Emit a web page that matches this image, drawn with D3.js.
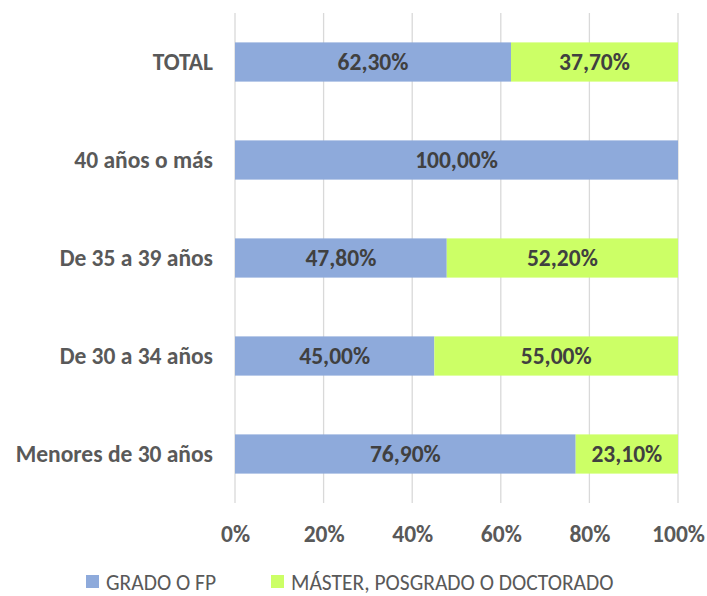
<!DOCTYPE html>
<html>
<head>
<meta charset="utf-8">
<script src="https://cdn.jsdelivr.net/npm/d3@7"></script>
<style>
  body { margin: 0; background: #fff; }
  svg { font-family: Carlito, Calibri, Lato, sans-serif; }
</style>
</head>
<body>
<div class="chart"></div>
<script>
const categories = ['TOTAL', '40 años o más', 'De 35 a 39 años', 'De 30 a 34 años', 'Menores de 30 años'];
const seriesNames = ['GRADO O FP', 'MÁSTER, POSGRADO O DOCTORADO'];
const grado = [62.3, 100, 47.8, 45.0, 76.9];
const master = [37.7, 0, 52.2, 55.0, 23.1];
const xTicks = [0, 20, 40, 60, 80, 100];
const colors = ['#8eaadb', '#ccff66'];

const fontSize = '23.5px';

const dimensions = {
  width: 707,
  height: 596,
  margin: { top: 13, right: 29, bottom: 93, left: 235 },
};
dimensions.boundedWidth = dimensions.width - dimensions.margin.left - dimensions.margin.right;
dimensions.boundedHeight = dimensions.height - dimensions.margin.top - dimensions.margin.bottom;

const svg = d3.select('.chart')
  .append('svg')
  .attr('width', dimensions.width)
  .attr('height', dimensions.height);

const bounds = svg.append('g')
  .attr('transform', `translate(${dimensions.margin.left},${dimensions.margin.top})`);

const xScale = d3.scaleLinear()
  .domain([0, 100])
  .range([0, dimensions.boundedWidth]);

const yScale = d3.scaleBand()
  .domain(categories)
  .range([0, dimensions.boundedHeight])
  .paddingInner(0.6)
  .paddingOuter(0.3);

const rows = categories.map((c, i) => ({ cat: c, grado: grado[i], master: master[i] }));
const stack = d3.stack().keys(['grado', 'master'])(rows);

// gridlines
bounds.append('g')
  .selectAll('line')
  .data(xTicks)
  .join('line')
  .attr('x1', (d) => xScale(d))
  .attr('x2', (d) => xScale(d))
  .attr('y1', 0)
  .attr('y2', dimensions.boundedHeight)
  .attr('stroke', '#d9d9d9')
  .attr('stroke-width', 1.3);

// bars
const layers = bounds.selectAll('g.layer')
  .data(stack)
  .join('g')
  .attr('class', 'layer')
  .attr('fill', (d, i) => colors[i]);

layers.selectAll('rect')
  .data((d) => d.filter((p) => p[1] - p[0] > 0))
  .join('rect')
  .attr('x', (d) => xScale(d[0]))
  .attr('width', (d) => xScale(d[1]) - xScale(d[0]))
  .attr('y', (d) => yScale(d.data.cat))
  .attr('height', yScale.bandwidth());

// data labels
layers.selectAll('text')
  .data((d) => d.filter((p) => p[1] - p[0] > 0))
  .join('text')
  .attr('x', (d) => xScale((d[0] + d[1]) / 2))
  .attr('y', (d) => yScale(d.data.cat) + yScale.bandwidth() / 2)
  .attr('dy', '0.35em')
  .attr('text-anchor', 'middle')
  .attr('fill', '#404040')
  .style('font-size', fontSize)
  .style('font-weight', 'bold')
  .text((d) => (d[1] - d[0]).toFixed(2).replace('.', ',') + '%');

// y axis labels
bounds.append('g')
  .selectAll('text')
  .data(categories)
  .join('text')
  .attr('x', -22)
  .attr('y', (d) => yScale(d) + yScale.bandwidth() / 2)
  .attr('dy', '0.35em')
  .attr('text-anchor', 'end')
  .attr('fill', '#595959')
  .style('font-size', fontSize)
  .style('font-weight', 'bold')
  .text((d) => d);

// x axis
const xAxis = bounds.append('g')
  .attr('transform', `translate(0,${dimensions.boundedHeight})`)
  .call(d3.axisBottom(xScale).tickValues(xTicks).tickSize(0).tickPadding(22).tickFormat((d) => d + '%'));
xAxis.select('.domain').remove();
xAxis.selectAll('text')
  .attr('fill', '#595959')
  .style('font-family', 'Carlito, Calibri, Lato, sans-serif')
  .style('font-size', fontSize)
  .style('font-weight', 'bold');

// legend
const legendX = [86, 271];
const legend = svg.append('g')
  .selectAll('g')
  .data(seriesNames)
  .join('g')
  .attr('transform', (d, i) => `translate(${legendX[i]},575)`);
legend.append('rect')
  .attr('width', 13)
  .attr('height', 13)
  .attr('fill', (d, i) => colors[i]);
legend.append('text')
  .attr('x', 20)
  .attr('y', 7)
  .attr('dy', '0.35em')
  .attr('fill', '#595959')
  .style('font-size', '21.5px')
  .text((d) => d);
</script>
</body>
</html>
